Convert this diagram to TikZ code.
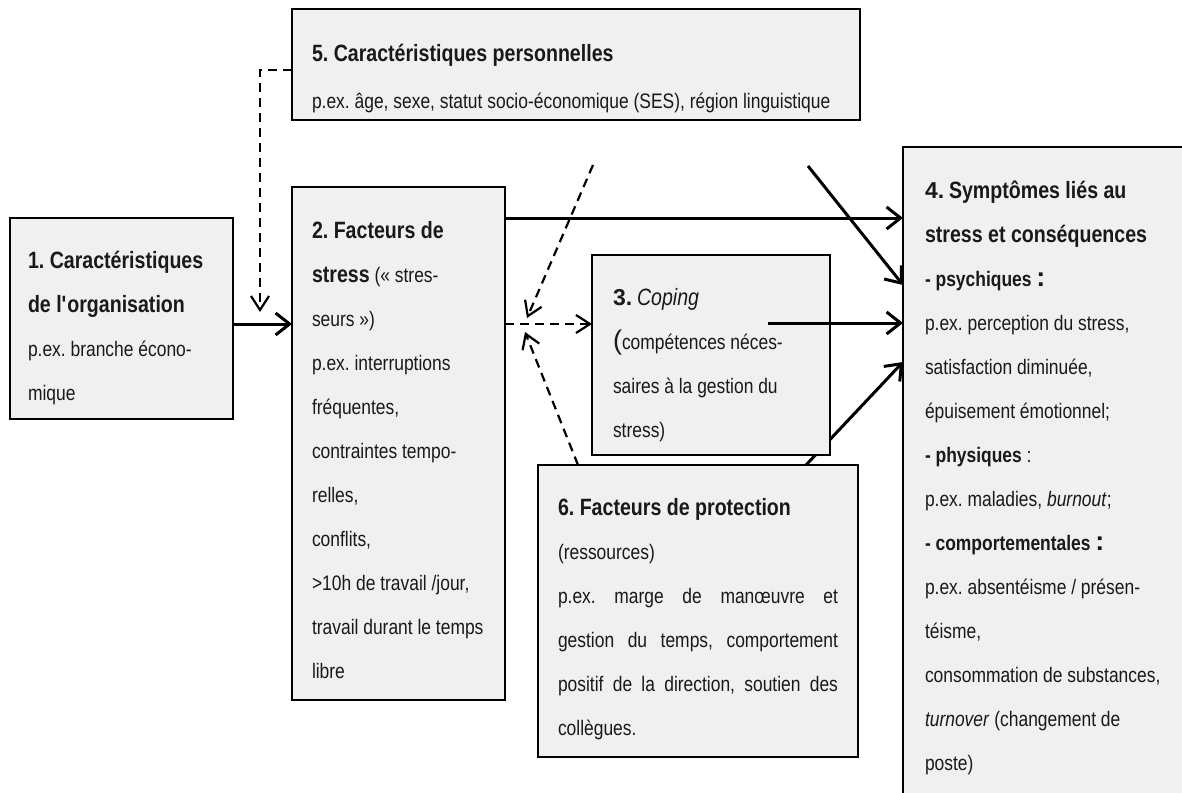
\documentclass[tikz,border=0pt]{standalone}
\usepackage{fontspec}
\setmainfont{Liberation Sans}[FakeStretch=0.83]
\newfontfamily\widefont{Liberation Sans}
\usetikzlibrary{arrows.meta}
\definecolor{boxgray}{RGB}{240,240,240}
\newcommand\bodyfont{\fontsize{21}{44}\selectfont}
\newcommand\hd[1]{{\fontsize{23.6}{44}\selectfont\bfseries #1}}
\newcommand\hdi[1]{{\fontsize{23.6}{44}\selectfont\itshape #1}}
\newcommand\wb[1]{{\widefont\fontsize{23}{44}\selectfont\bfseries #1}}
\frenchspacing
\begin{document}
\begin{tikzpicture}[x=1pt,y=-1pt,
  box/.style={draw=black, line width=1.8pt, fill=boxgray, inner sep=0pt, outer sep=0pt, anchor=north west},
  txt/.style={anchor=base west, inner sep=0pt, outer sep=0pt, font=\bodyfont\frenchspacing, text=black!90},
  solidarrow/.style={line width=3pt, -{Straight Barb[length=14pt,width=22pt]}},
  dasharrow/.style={line width=2.2pt, dash pattern=on 9pt off 6pt, -{Straight Barb[length=14pt,width=18pt]}}]
\useasboundingbox (0,0) rectangle (1182,792);
\clip (0,0) rectangle (1182,792);

% boxes
\node[box, minimum width=223pt, minimum height=201pt] (b1) at (10,218) {};
\node[box, minimum width=213pt, minimum height=513pt] (b2) at (292,187) {};
\node[box, minimum width=292pt, minimum height=653pt] (b4) at (903,147) {};
\node[box, minimum width=568pt, minimum height=111pt] (b5) at (292,9) {};
\node[box, minimum width=320pt, minimum height=292pt] (b6) at (538,465) {};

% helper coordinates
\coordinate (yE) at (0,70);
\coordinate (tipE) at (260,312);
\coordinate (y1) at (0,324);
\coordinate (yA) at (0,218);
\coordinate (startB) at (808,166);
\coordinate (yB) at (0,285);
\coordinate (startC) at (768,323);
\coordinate (yC) at (0,323);
\coordinate (yD) at (0,362);
\coordinate (xD) at (806,0);
\coordinate (startG) at (593,165);
\coordinate (tipG) at (527,318);
\coordinate (xH) at (578,0);
\coordinate (tipH) at (525,332);

% arrow partly hidden behind box 3
\draw[solidarrow] (xD |- b6.north) -- (b4.west |- yD);

\node[box, minimum width=238pt, minimum height=200pt] (b3) at (592,255) {};

% connectors
\draw[solidarrow] (b1.east |- y1) -- (b2.west |- y1);
\draw[solidarrow] (b2.east |- yA) -- (b4.west |- yA);
\draw[solidarrow] (startB) -- (b4.west |- yB);
\draw[solidarrow] (startC) -- (b4.west |- yC);
\draw[dasharrow] (b5.west |- yE) -| (tipE);
\draw[dasharrow] (b2.east |- y1) -- (b3.west |- y1);
\draw[dasharrow] (startG) -- (tipG);
\draw[dasharrow] (xH |- b6.north) -- (tipH);

% texts box 1
\foreach \t [count=\i from 0] in {{\hd{1. Caractéristiques}},{\hd{de l\textquotesingle organisation}},{p.ex. branche écono-},{mique}}
  \node[txt] (t1-\i) at (28,268+44*\i) {\t};

% texts box 2
\foreach \t [count=\i from 0] in {{\hd{2. Facteurs de}},{\hd{stress} («~stres-},{seurs~»)},{p.ex. interruptions},{fréquentes,},{contraintes tempo-},{relles,},{conflits,},{>10h de travail /jour,},{travail durant le temps},{libre}}
  \node[txt] (t2-\i) at (312,238+44*\i) {\t};

% texts box 3
\foreach \t [count=\i from 0] in {{\wb{3.} \hdi{Coping}},{{\widefont\fontsize{27}{44}\selectfont(}compétences néces-},{saires à la gestion du},{stress)}}
  \node[txt] (t3-\i) at (613,305+44*\i) {\t};

% texts box 4
\foreach \t [count=\i from 0] in {{\wb{4.} \hd{Symptômes liés au}},{\hd{stress et conséquences}},{\textbf{- psychiques }{\widefont\fontsize{27}{44}\selectfont\bfseries :}},{p.ex. perception du stress,},{satisfaction diminuée,},{épuisement émotionnel;},{\textbf{- physiques} :},{p.ex. maladies, \textit{burnout};},{\textbf{- comportementales }{\widefont\fontsize{27}{44}\selectfont\bfseries :}},{p.ex. absentéisme / présen-},{téisme,},{consommation de substances,},{\textit{turnover} (changement de},{poste)}}
  \node[txt] (t4-\i) at (925,198+44*\i) {\t};

% texts box 5
\node[txt] (t5-0) at (312,62) {\hd{5. Caractéristiques personnelles}};
\node[txt] (t5-1) at (312,108) {p.ex. âge, sexe, statut socio-économique (SES), région linguistique};

% texts box 6
\foreach \t [count=\i from 0] in {{\hd{6. Facteurs de protection}},{(ressources)},{\makebox[280pt][s]{p.ex. marge de manœuvre et}},{\makebox[280pt][s]{gestion du temps, comportement}},{\makebox[280pt][s]{positif de la direction, soutien des}},{collègues.}}
  \node[txt] (t6-\i) at (558,515+44*\i) {\t};
\end{tikzpicture}
\end{document}
